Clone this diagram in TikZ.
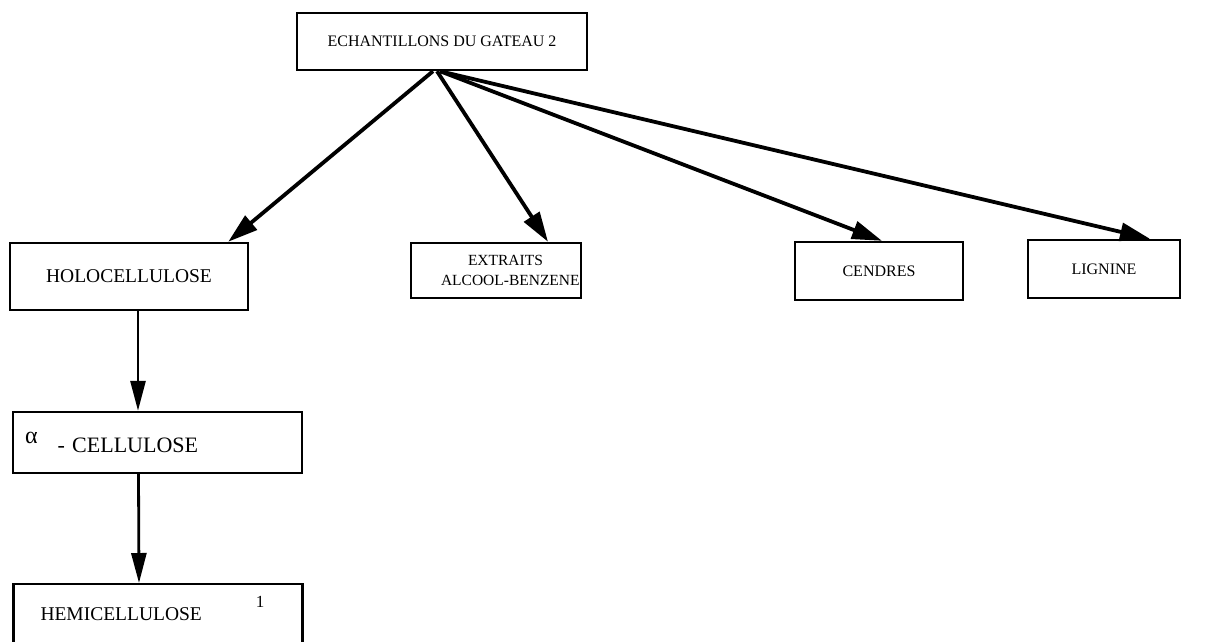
\documentclass[tikz,border=0pt]{standalone}
\usepackage{fontspec}
\setmainfont{Liberation Serif}
\usetikzlibrary{arrows.meta, positioning}

\begin{document}
\begin{tikzpicture}[
          x=1pt, y=-1pt,
          box/.style={
              draw=black,
              fill=white,
              line width=2.4pt,
              inner xsep=12pt,
              font=\fontsize{16}{18}\selectfont,
              align=center
            },
          leftbox/.style={
              box,
              font=\fontsize{19.5}{22}\selectfont,
              align=left
            },
          arr/.style={-{Triangle[length=30pt, width=18pt]}, line width=3.8pt},
          varr/.style={-{Triangle[length=30pt, width=15pt]}, line width=2.8pt}
        ]
        \useasboundingbox (0,0) rectangle (1229,641);
        \clip (0,0) rectangle (1229,641);

        \node[box, minimum width=290pt, minimum height=57pt] (gateau) at (442,41.5)
        {ECHANTILLONS DU GATEAU 2};

        \node[box, font=\fontsize{19.5}{22}\selectfont, minimum width=238pt, minimum height=67pt] (holo) at (129,276.5) {HOLOCELLULOSE};
        \node[box, font=\fontsize{15.5}{18}\selectfont, inner xsep=2pt, text width=166pt, align=left, minimum height=55pt] (extraits) at (496,270.5)
        {\mbox{\hspace*{55pt}EXTRAITS}\\[2pt]\mbox{\hspace*{28pt}ALCOOL-BENZENE}};
        \node[box, minimum width=168pt, minimum height=58pt] (cendres) at (879,271) {CENDRES};
        \node[box, minimum width=152pt, minimum height=58pt] (lignine) at (1104,269) {LIGNINE};

        \node[leftbox, font=\fontsize{22}{24}\selectfont, text width=265pt, minimum height=61pt] (alpha) at (157.5,442.5)
        {\raisebox{9pt}{\fontsize{24}{24}\selectfont α}\hspace{20pt}- CELLULOSE};
        \node[leftbox, text width=265pt, minimum height=64pt, anchor=north] (hemi) at (158,583)
        {\smash{\raisebox{-4pt}{\hspace*{15pt}HEMICELLULOSE\hspace{54pt}\raisebox{13pt}{\fontsize{17}{17}\selectfont 1}}}};

        \draw[arr] ([xshift=-9pt]gateau.south) -- ([xshift=-21pt]holo.north east);
        \draw[arr] ([xshift=-5pt]gateau.south) -- ([xshift=52pt]extraits.north);
        \draw[arr] ([xshift=-2pt]gateau.south) -- ([xshift=3pt]cendres.north);
        \draw[arr] ([xshift=-2pt]gateau.south) -- ([xshift=46pt]lignine.north);

        \draw[varr] ([xshift=9pt]holo.south) -- ([xshift=9pt]holo.south |- alpha.north);
        \draw[varr] ([xshift=-19pt]alpha.south) -- ([xshift=-19pt]hemi.north);
      \end{tikzpicture}
\end{document}
